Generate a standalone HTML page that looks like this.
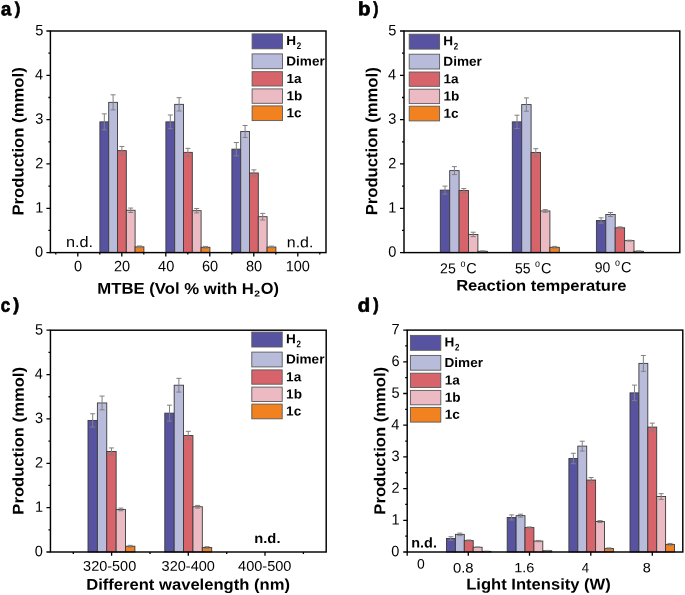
<!DOCTYPE html>
<html><head><meta charset="utf-8"><style>
html,body{margin:0;padding:0;background:#fff;}
svg{display:block;}
svg{will-change:transform}
text{font-family:"Liberation Sans", sans-serif;}
</style></head><body>
<svg width="685" height="595" viewBox="0 0 685 595">
<rect width="685" height="595" fill="#fff"/>
<rect x="99.90" y="121.86" width="8.80" height="130.74" fill="#5853a1" stroke="#3a3a3a" stroke-width="0.9"/>
<rect x="108.70" y="102.36" width="8.80" height="150.24" fill="#b9bbdb" stroke="#3a3a3a" stroke-width="0.9"/>
<rect x="117.50" y="150.66" width="8.80" height="101.94" fill="#d7646a" stroke="#3a3a3a" stroke-width="0.9"/>
<rect x="126.30" y="210.27" width="8.80" height="42.33" fill="#ebbac2" stroke="#3a3a3a" stroke-width="0.9"/>
<rect x="135.10" y="246.84" width="8.80" height="5.76" fill="#f1821f" stroke="#3a3a3a" stroke-width="0.9"/>
<rect x="165.90" y="121.86" width="8.80" height="130.74" fill="#5853a1" stroke="#3a3a3a" stroke-width="0.9"/>
<rect x="174.70" y="104.35" width="8.80" height="148.25" fill="#b9bbdb" stroke="#3a3a3a" stroke-width="0.9"/>
<rect x="183.50" y="152.35" width="8.80" height="100.25" fill="#d7646a" stroke="#3a3a3a" stroke-width="0.9"/>
<rect x="192.30" y="210.67" width="8.80" height="41.93" fill="#ebbac2" stroke="#3a3a3a" stroke-width="0.9"/>
<rect x="201.10" y="247.28" width="8.80" height="5.32" fill="#f1821f" stroke="#3a3a3a" stroke-width="0.9"/>
<rect x="231.90" y="149.16" width="8.80" height="103.44" fill="#5853a1" stroke="#3a3a3a" stroke-width="0.9"/>
<rect x="240.70" y="131.47" width="8.80" height="121.13" fill="#b9bbdb" stroke="#3a3a3a" stroke-width="0.9"/>
<rect x="249.50" y="172.96" width="8.80" height="79.64" fill="#d7646a" stroke="#3a3a3a" stroke-width="0.9"/>
<rect x="258.30" y="216.70" width="8.80" height="35.90" fill="#ebbac2" stroke="#3a3a3a" stroke-width="0.9"/>
<rect x="267.10" y="247.02" width="8.80" height="5.58" fill="#f1821f" stroke="#3a3a3a" stroke-width="0.9"/>
<path d="M104.30 113.88V129.83M101.80 113.88h5M101.80 129.83h5M113.10 94.82V109.89M110.60 94.82h5M110.60 109.89h5M121.90 146.45V154.87M119.40 146.45h5M119.40 154.87h5M130.70 208.06V212.49M128.20 208.06h5M128.20 212.49h5M139.50 245.95V247.72M137.00 245.95h5M137.00 247.72h5M170.30 114.99V128.73M167.80 114.99h5M167.80 128.73h5M179.10 97.70V111.00M176.60 97.70h5M176.60 111.00h5M187.90 148.36V156.34M185.40 148.36h5M185.40 156.34h5M196.70 208.46V212.89M194.20 208.46h5M194.20 212.89h5M205.50 246.40V248.17M203.00 246.40h5M203.00 248.17h5M236.30 142.51V155.81M233.80 142.51h5M233.80 155.81h5M245.10 125.49V137.46M242.60 125.49h5M242.60 137.46h5M253.90 169.85V176.06M251.40 169.85h5M251.40 176.06h5M262.70 213.38V220.02M260.20 213.38h5M260.20 220.02h5M271.50 246.13V247.90M269.00 246.13h5M269.00 247.90h5" stroke="#808080" stroke-width="1" fill="none"/>
<path d="M46.40 252.60H50.40M46.40 208.28H50.40M46.40 163.96H50.40M46.40 119.64H50.40M46.40 75.32H50.40M46.40 31.00H50.40M48.40 230.44H50.40M48.40 186.12H50.40M48.40 141.80H50.40M48.40 97.48H50.40M48.40 53.16H50.40M77.80 252.60V256.40M121.80 252.60V256.40M165.80 252.60V256.40M209.80 252.60V256.40M253.80 252.60V256.40M297.80 252.60V256.40M55.80 252.60V254.60M99.80 252.60V254.60M143.80 252.60V254.60M187.80 252.60V254.60M231.80 252.60V254.60M275.80 252.60V254.60M319.80 252.60V254.60" stroke="#000" stroke-width="1.3" fill="none"/>
<rect x="50.40" y="31.00" width="275.60" height="221.60" fill="none" stroke="#000" stroke-width="1.45"/>
<text transform="translate(35.03,256.80) rotate(0.05) scale(0.9700,1)" font-size="15.00" font-weight="normal" fill="#000">0</text>
<text transform="translate(35.18,212.48) rotate(0.05) scale(0.9700,1)" font-size="15.00" font-weight="normal" fill="#000">1</text>
<text transform="translate(35.18,168.16) rotate(0.05) scale(0.9700,1)" font-size="15.00" font-weight="normal" fill="#000">2</text>
<text transform="translate(35.18,123.84) rotate(0.05) scale(0.9700,1)" font-size="15.00" font-weight="normal" fill="#000">3</text>
<text transform="translate(34.89,79.52) rotate(0.05) scale(0.9700,1)" font-size="15.00" font-weight="normal" fill="#000">4</text>
<text transform="translate(35.18,35.20) rotate(0.05) scale(0.9700,1)" font-size="15.00" font-weight="normal" fill="#000">5</text>
<text transform="translate(74.03,271.25) rotate(0.05) scale(0.9700,1)" font-size="15.00" font-weight="normal" fill="#000">0</text>
<text transform="translate(113.88,271.25) rotate(0.05) scale(0.9700,1)" font-size="15.00" font-weight="normal" fill="#000">20</text>
<text transform="translate(158.10,271.25) rotate(0.05) scale(0.9700,1)" font-size="15.00" font-weight="normal" fill="#000">40</text>
<text transform="translate(201.88,271.25) rotate(0.05) scale(0.9700,1)" font-size="15.00" font-weight="normal" fill="#000">60</text>
<text transform="translate(245.95,271.25) rotate(0.05) scale(0.9700,1)" font-size="15.00" font-weight="normal" fill="#000">80</text>
<text transform="translate(285.66,271.25) rotate(0.05) scale(0.9700,1)" font-size="15.00" font-weight="normal" fill="#000">100</text>
<rect x="252.10" y="33.90" width="30.4" height="14.90" fill="#5853a1" stroke="#5a5a5a" stroke-width="0.9"/>
<rect x="252.10" y="53.90" width="30.4" height="14.80" fill="#b9bbdb" stroke="#5a5a5a" stroke-width="0.9"/>
<rect x="252.10" y="71.70" width="30.4" height="14.30" fill="#d7646a" stroke="#5a5a5a" stroke-width="0.9"/>
<rect x="252.10" y="88.90" width="30.4" height="14.40" fill="#ebbac2" stroke="#5a5a5a" stroke-width="0.9"/>
<rect x="252.10" y="105.90" width="30.4" height="14.70" fill="#f1821f" stroke="#5a5a5a" stroke-width="0.9"/>
<text transform="translate(286.25,44.99) rotate(0.05) scale(1.0300,1)" font-size="13.20" font-weight="bold" fill="#000">H</text>
<text transform="translate(296.76,49.10) rotate(0.05) scale(0.8193,1)" font-size="9.71" font-weight="bold" fill="#000">2</text>
<text transform="translate(286.25,65.39) rotate(0.05) scale(1.0300,1)" font-size="13.20" font-weight="bold" fill="#000">Dimer</text>
<text transform="translate(286.38,82.94) rotate(0.05) scale(1.0300,1)" font-size="13.20" font-weight="bold" fill="#000">1a</text>
<text transform="translate(286.38,100.19) rotate(0.05) scale(1.0300,1)" font-size="13.20" font-weight="bold" fill="#000">1b</text>
<text transform="translate(286.38,117.34) rotate(0.05) scale(1.0300,1)" font-size="13.20" font-weight="bold" fill="#000">1c</text>
<text transform="translate(65.96,247.05) rotate(0.05) scale(1.0812,1)" font-size="15.07" font-weight="normal" fill="#000">n.d.</text>
<text transform="translate(286.78,247.25) rotate(0.05) scale(1.0689,1)" font-size="14.93" font-weight="normal" fill="#000">n.d.</text>
<text transform="translate(97.33,293.80) rotate(0.05) scale(1.0582,1)" font-size="15.80" font-weight="bold" fill="#000">MTBE (Vol % with H</text>
<text transform="translate(254.19,296.50) rotate(0.05) scale(1.1944,1)" font-size="8.71" font-weight="bold" fill="#000">2</text>
<text transform="translate(260.85,293.80) rotate(0.05) scale(1.0364,1)" font-size="15.80" font-weight="bold" fill="#000">O)</text>
<rect x="440.30" y="190.11" width="9.40" height="62.49" fill="#5853a1" stroke="#3a3a3a" stroke-width="0.9"/>
<rect x="449.70" y="170.61" width="9.40" height="81.99" fill="#b9bbdb" stroke="#3a3a3a" stroke-width="0.9"/>
<rect x="459.10" y="190.55" width="9.40" height="62.05" fill="#d7646a" stroke="#3a3a3a" stroke-width="0.9"/>
<rect x="468.50" y="234.43" width="9.40" height="18.17" fill="#ebbac2" stroke="#3a3a3a" stroke-width="0.9"/>
<rect x="477.90" y="251.27" width="9.40" height="1.33" fill="#f1821f" stroke="#3a3a3a" stroke-width="0.9"/>
<rect x="512.30" y="121.86" width="9.40" height="130.74" fill="#5853a1" stroke="#3a3a3a" stroke-width="0.9"/>
<rect x="521.70" y="104.57" width="9.40" height="148.03" fill="#b9bbdb" stroke="#3a3a3a" stroke-width="0.9"/>
<rect x="531.10" y="152.44" width="9.40" height="100.16" fill="#d7646a" stroke="#3a3a3a" stroke-width="0.9"/>
<rect x="540.50" y="210.94" width="9.40" height="41.66" fill="#ebbac2" stroke="#3a3a3a" stroke-width="0.9"/>
<rect x="549.90" y="247.28" width="9.40" height="5.32" fill="#f1821f" stroke="#3a3a3a" stroke-width="0.9"/>
<rect x="596.40" y="220.47" width="9.40" height="32.13" fill="#5853a1" stroke="#3a3a3a" stroke-width="0.9"/>
<rect x="605.80" y="214.48" width="9.40" height="38.12" fill="#b9bbdb" stroke="#3a3a3a" stroke-width="0.9"/>
<rect x="615.20" y="227.78" width="9.40" height="24.82" fill="#d7646a" stroke="#3a3a3a" stroke-width="0.9"/>
<rect x="624.60" y="240.63" width="9.40" height="11.97" fill="#ebbac2" stroke="#3a3a3a" stroke-width="0.9"/>
<rect x="634.00" y="251.27" width="9.40" height="1.33" fill="#f1821f" stroke="#3a3a3a" stroke-width="0.9"/>
<path d="M445.00 186.12V194.10M442.50 186.12h5M442.50 194.10h5M454.40 166.62V174.60M451.90 166.62h5M451.90 174.60h5M463.80 188.56V192.55M461.30 188.56h5M461.30 192.55h5M473.20 232.21V236.64M470.70 232.21h5M470.70 236.64h5M482.60 250.83V251.71M480.10 250.83h5M480.10 251.71h5M517.00 115.21V128.50M514.50 115.21h5M514.50 128.50h5M526.40 97.92V111.22M523.90 97.92h5M523.90 111.22h5M535.80 148.67V156.20M533.30 148.67h5M533.30 156.20h5M545.20 209.61V212.27M542.70 209.61h5M542.70 212.27h5M554.60 246.40V248.17M552.10 246.40h5M552.10 248.17h5M601.10 217.81V223.13M598.60 217.81h5M598.60 223.13h5M610.50 212.49V216.48M608.00 212.49h5M608.00 216.48h5M619.90 226.89V228.67M617.40 226.89h5M617.40 228.67h5M629.30 240.19V241.08M626.80 240.19h5M626.80 241.08h5M638.70 250.83V251.71M636.20 250.83h5M636.20 251.71h5" stroke="#808080" stroke-width="1" fill="none"/>
<path d="M400.00 252.60H404.00M400.00 208.28H404.00M400.00 163.96H404.00M400.00 119.64H404.00M400.00 75.32H404.00M400.00 31.00H404.00M402.00 230.44H404.00M402.00 186.12H404.00M402.00 141.80H404.00M402.00 97.48H404.00M402.00 53.16H404.00" stroke="#000" stroke-width="1.3" fill="none"/>
<rect x="404.00" y="31.00" width="275.80" height="221.60" fill="none" stroke="#000" stroke-width="1.45"/>
<text transform="translate(388.13,256.80) rotate(0.05) scale(0.9700,1)" font-size="15.00" font-weight="normal" fill="#000">0</text>
<text transform="translate(388.28,212.48) rotate(0.05) scale(0.9700,1)" font-size="15.00" font-weight="normal" fill="#000">1</text>
<text transform="translate(388.28,168.16) rotate(0.05) scale(0.9700,1)" font-size="15.00" font-weight="normal" fill="#000">2</text>
<text transform="translate(388.28,123.84) rotate(0.05) scale(0.9700,1)" font-size="15.00" font-weight="normal" fill="#000">3</text>
<text transform="translate(387.99,79.52) rotate(0.05) scale(0.9700,1)" font-size="15.00" font-weight="normal" fill="#000">4</text>
<text transform="translate(388.28,35.20) rotate(0.05) scale(0.9700,1)" font-size="15.00" font-weight="normal" fill="#000">5</text>
<rect x="409.20" y="34.20" width="30.4" height="14.90" fill="#5853a1" stroke="#5a5a5a" stroke-width="0.9"/>
<rect x="409.20" y="54.20" width="30.4" height="14.80" fill="#b9bbdb" stroke="#5a5a5a" stroke-width="0.9"/>
<rect x="409.20" y="72.00" width="30.4" height="14.30" fill="#d7646a" stroke="#5a5a5a" stroke-width="0.9"/>
<rect x="409.20" y="89.20" width="30.4" height="14.40" fill="#ebbac2" stroke="#5a5a5a" stroke-width="0.9"/>
<rect x="409.20" y="106.20" width="30.4" height="14.70" fill="#f1821f" stroke="#5a5a5a" stroke-width="0.9"/>
<text transform="translate(443.35,45.29) rotate(0.05) scale(1.0300,1)" font-size="13.20" font-weight="bold" fill="#000">H</text>
<text transform="translate(453.86,49.40) rotate(0.05) scale(0.8193,1)" font-size="9.71" font-weight="bold" fill="#000">2</text>
<text transform="translate(443.35,65.69) rotate(0.05) scale(1.0300,1)" font-size="13.20" font-weight="bold" fill="#000">Dimer</text>
<text transform="translate(443.48,83.24) rotate(0.05) scale(1.0300,1)" font-size="13.20" font-weight="bold" fill="#000">1a</text>
<text transform="translate(443.48,100.49) rotate(0.05) scale(1.0300,1)" font-size="13.20" font-weight="bold" fill="#000">1b</text>
<text transform="translate(443.48,117.64) rotate(0.05) scale(1.0300,1)" font-size="13.20" font-weight="bold" fill="#000">1c</text>
<text transform="translate(440.09,273.16) rotate(0.05) scale(0.9827,1)" font-size="14.37" font-weight="normal" fill="#000">25</text>
<text transform="translate(460.39,266.65) rotate(0.05) scale(0.8936,1)" font-size="10.00" font-weight="normal" fill="#000">o</text>
<text transform="translate(466.28,273.15) rotate(0.05) scale(0.9767,1)" font-size="14.79" font-weight="normal" fill="#000">C</text>
<text transform="translate(514.94,273.15) rotate(0.05) scale(0.9595,1)" font-size="14.57" font-weight="normal" fill="#000">55</text>
<text transform="translate(535.09,266.65) rotate(0.05) scale(0.8936,1)" font-size="10.00" font-weight="normal" fill="#000">o</text>
<text transform="translate(540.98,273.15) rotate(0.05) scale(0.9767,1)" font-size="14.79" font-weight="normal" fill="#000">C</text>
<text transform="translate(594.80,272.26) rotate(0.05) scale(0.9732,1)" font-size="14.37" font-weight="normal" fill="#000">90</text>
<text transform="translate(615.09,265.75) rotate(0.05) scale(0.8936,1)" font-size="10.00" font-weight="normal" fill="#000">o</text>
<text transform="translate(620.98,272.25) rotate(0.05) scale(0.9767,1)" font-size="14.79" font-weight="normal" fill="#000">C</text>
<text transform="translate(456.14,290.60) rotate(0.05) scale(1.0901,1)" font-size="15.22" font-weight="bold" fill="#000">Reaction temperature</text>
<rect x="88.00" y="420.43" width="9.38" height="131.57" fill="#5853a1" stroke="#3a3a3a" stroke-width="0.9"/>
<rect x="97.38" y="402.95" width="9.38" height="149.05" fill="#b9bbdb" stroke="#3a3a3a" stroke-width="0.9"/>
<rect x="106.76" y="451.48" width="9.38" height="100.52" fill="#d7646a" stroke="#3a3a3a" stroke-width="0.9"/>
<rect x="116.14" y="509.41" width="9.38" height="42.59" fill="#ebbac2" stroke="#3a3a3a" stroke-width="0.9"/>
<rect x="125.52" y="546.23" width="9.38" height="5.77" fill="#f1821f" stroke="#3a3a3a" stroke-width="0.9"/>
<rect x="164.80" y="413.15" width="9.38" height="138.85" fill="#5853a1" stroke="#3a3a3a" stroke-width="0.9"/>
<rect x="174.18" y="385.21" width="9.38" height="166.79" fill="#b9bbdb" stroke="#3a3a3a" stroke-width="0.9"/>
<rect x="183.56" y="435.56" width="9.38" height="116.44" fill="#d7646a" stroke="#3a3a3a" stroke-width="0.9"/>
<rect x="192.94" y="506.75" width="9.38" height="45.25" fill="#ebbac2" stroke="#3a3a3a" stroke-width="0.9"/>
<rect x="202.32" y="547.56" width="9.38" height="4.44" fill="#f1821f" stroke="#3a3a3a" stroke-width="0.9"/>
<path d="M92.69 413.77V427.08M90.19 413.77h5M90.19 427.08h5M102.07 396.07V409.83M99.57 396.07h5M99.57 409.83h5M111.45 447.93V455.03M108.95 447.93h5M108.95 455.03h5M120.83 508.08V510.75M118.33 508.08h5M118.33 510.75h5M130.21 545.35V547.12M127.71 545.35h5M127.71 547.12h5M169.49 405.17V421.14M166.99 405.17h5M166.99 421.14h5M178.87 378.33V392.08M176.37 378.33h5M176.37 392.08h5M188.25 431.34V439.77M185.75 431.34h5M185.75 439.77h5M197.63 505.42V508.08M195.13 505.42h5M195.13 508.08h5M207.01 546.68V548.45M204.51 546.68h5M204.51 548.45h5" stroke="#808080" stroke-width="1" fill="none"/>
<path d="M46.45 552.00H50.45M46.45 507.64H50.45M46.45 463.28H50.45M46.45 418.92H50.45M46.45 374.56H50.45M46.45 330.20H50.45M48.45 529.82H50.45M48.45 485.46H50.45M48.45 441.10H50.45M48.45 396.74H50.45M48.45 352.38H50.45M111.60 552.00V555.80M188.30 552.00V555.80M265.00 552.00V555.80M73.30 552.00V554.00M150.00 552.00V554.00M226.70 552.00V554.00M303.40 552.00V554.00" stroke="#000" stroke-width="1.3" fill="none"/>
<rect x="50.45" y="330.20" width="275.75" height="221.80" fill="none" stroke="#000" stroke-width="1.45"/>
<text transform="translate(34.78,556.20) rotate(0.05) scale(0.9700,1)" font-size="15.00" font-weight="normal" fill="#000">0</text>
<text transform="translate(34.93,511.84) rotate(0.05) scale(0.9700,1)" font-size="15.00" font-weight="normal" fill="#000">1</text>
<text transform="translate(34.93,467.48) rotate(0.05) scale(0.9700,1)" font-size="15.00" font-weight="normal" fill="#000">2</text>
<text transform="translate(34.93,423.12) rotate(0.05) scale(0.9700,1)" font-size="15.00" font-weight="normal" fill="#000">3</text>
<text transform="translate(34.64,378.76) rotate(0.05) scale(0.9700,1)" font-size="15.00" font-weight="normal" fill="#000">4</text>
<text transform="translate(34.93,334.40) rotate(0.05) scale(0.9700,1)" font-size="15.00" font-weight="normal" fill="#000">5</text>
<rect x="251.80" y="332.10" width="30.4" height="14.90" fill="#5853a1" stroke="#5a5a5a" stroke-width="0.9"/>
<rect x="251.80" y="352.10" width="30.4" height="14.80" fill="#b9bbdb" stroke="#5a5a5a" stroke-width="0.9"/>
<rect x="251.80" y="369.90" width="30.4" height="14.30" fill="#d7646a" stroke="#5a5a5a" stroke-width="0.9"/>
<rect x="251.80" y="387.10" width="30.4" height="14.40" fill="#ebbac2" stroke="#5a5a5a" stroke-width="0.9"/>
<rect x="251.80" y="404.10" width="30.4" height="14.70" fill="#f1821f" stroke="#5a5a5a" stroke-width="0.9"/>
<text transform="translate(285.95,343.19) rotate(0.05) scale(1.0300,1)" font-size="13.20" font-weight="bold" fill="#000">H</text>
<text transform="translate(296.46,347.30) rotate(0.05) scale(0.8193,1)" font-size="9.71" font-weight="bold" fill="#000">2</text>
<text transform="translate(285.95,363.59) rotate(0.05) scale(1.0300,1)" font-size="13.20" font-weight="bold" fill="#000">Dimer</text>
<text transform="translate(286.08,381.14) rotate(0.05) scale(1.0300,1)" font-size="13.20" font-weight="bold" fill="#000">1a</text>
<text transform="translate(286.08,398.39) rotate(0.05) scale(1.0300,1)" font-size="13.20" font-weight="bold" fill="#000">1b</text>
<text transform="translate(286.08,415.54) rotate(0.05) scale(1.0300,1)" font-size="13.20" font-weight="bold" fill="#000">1c</text>
<text transform="translate(83.12,570.66) rotate(0.05) scale(1.0284,1)" font-size="14.08" font-weight="normal" fill="#000">320-500</text>
<text transform="translate(161.62,570.66) rotate(0.05) scale(1.0324,1)" font-size="14.08" font-weight="normal" fill="#000">320-400</text>
<text transform="translate(238.11,570.66) rotate(0.05) scale(1.0325,1)" font-size="14.08" font-weight="normal" fill="#000">400-500</text>
<text transform="translate(86.14,589.70) rotate(0.05) scale(1.0618,1)" font-size="15.65" font-weight="bold" fill="#000">Different wavelength (nm)</text>
<text transform="translate(254.27,543.06) rotate(0.05) scale(1.0561,1)" font-size="13.97" font-weight="bold" fill="#000">n.d.</text>
<rect x="446.50" y="538.46" width="8.90" height="13.54" fill="#5853a1" stroke="#3a3a3a" stroke-width="0.9"/>
<rect x="455.40" y="534.37" width="8.90" height="17.63" fill="#b9bbdb" stroke="#3a3a3a" stroke-width="0.9"/>
<rect x="464.30" y="540.59" width="8.90" height="11.41" fill="#d7646a" stroke="#3a3a3a" stroke-width="0.9"/>
<rect x="473.20" y="547.25" width="8.90" height="4.75" fill="#ebbac2" stroke="#3a3a3a" stroke-width="0.9"/>
<rect x="482.10" y="551.37" width="8.90" height="0.63" fill="#f1821f" stroke="#3a3a3a" stroke-width="0.9"/>
<rect x="507.20" y="517.45" width="8.90" height="34.55" fill="#5853a1" stroke="#3a3a3a" stroke-width="0.9"/>
<rect x="516.10" y="515.64" width="8.90" height="36.36" fill="#b9bbdb" stroke="#3a3a3a" stroke-width="0.9"/>
<rect x="525.00" y="527.59" width="8.90" height="24.41" fill="#d7646a" stroke="#3a3a3a" stroke-width="0.9"/>
<rect x="533.90" y="541.06" width="8.90" height="10.94" fill="#ebbac2" stroke="#3a3a3a" stroke-width="0.9"/>
<rect x="542.80" y="550.73" width="8.90" height="1.27" fill="#f1821f" stroke="#3a3a3a" stroke-width="0.9"/>
<rect x="568.90" y="458.49" width="8.90" height="93.51" fill="#5853a1" stroke="#3a3a3a" stroke-width="0.9"/>
<rect x="577.80" y="446.12" width="8.90" height="105.88" fill="#b9bbdb" stroke="#3a3a3a" stroke-width="0.9"/>
<rect x="586.70" y="480.04" width="8.90" height="71.96" fill="#d7646a" stroke="#3a3a3a" stroke-width="0.9"/>
<rect x="595.60" y="521.57" width="8.90" height="30.43" fill="#ebbac2" stroke="#3a3a3a" stroke-width="0.9"/>
<rect x="604.50" y="548.51" width="8.90" height="3.49" fill="#f1821f" stroke="#3a3a3a" stroke-width="0.9"/>
<rect x="630.00" y="392.87" width="8.90" height="159.13" fill="#5853a1" stroke="#3a3a3a" stroke-width="0.9"/>
<rect x="638.90" y="363.38" width="8.90" height="188.61" fill="#b9bbdb" stroke="#3a3a3a" stroke-width="0.9"/>
<rect x="647.80" y="427.10" width="8.90" height="124.90" fill="#d7646a" stroke="#3a3a3a" stroke-width="0.9"/>
<rect x="656.70" y="496.52" width="8.90" height="55.47" fill="#ebbac2" stroke="#3a3a3a" stroke-width="0.9"/>
<rect x="665.60" y="544.39" width="8.90" height="7.61" fill="#f1821f" stroke="#3a3a3a" stroke-width="0.9"/>
<path d="M450.95 536.72V540.21M448.45 536.72h5M448.45 540.21h5M459.85 533.11V535.64M457.35 533.11h5M457.35 535.64h5M468.75 539.95V541.22M466.25 539.95h5M466.25 541.22h5M477.65 546.93V547.56M475.15 546.93h5M475.15 547.56h5M486.55 551.21V551.52M484.05 551.21h5M484.05 551.52h5M511.65 514.91V519.98M509.15 514.91h5M509.15 519.98h5M520.55 514.21V517.07M518.05 514.21h5M518.05 517.07h5M529.45 526.96V528.23M526.95 526.96h5M526.95 528.23h5M538.35 540.43V541.70M535.85 540.43h5M535.85 541.70h5M547.25 550.41V551.05M544.75 550.41h5M544.75 551.05h5M573.35 453.25V463.72M570.85 453.25h5M570.85 463.72h5M582.25 441.21V451.04M579.75 441.21h5M579.75 451.04h5M591.15 477.50V482.58M588.65 477.50h5M588.65 482.58h5M600.05 520.62V522.52M597.55 520.62h5M597.55 522.52h5M608.95 547.88V549.15M606.45 547.88h5M606.45 549.15h5M634.45 385.10V400.63M631.95 385.10h5M631.95 400.63h5M643.35 355.46V371.31M640.85 355.46h5M640.85 371.31h5M652.25 423.14V431.06M649.75 423.14h5M649.75 431.06h5M661.15 493.67V499.38M658.65 493.67h5M658.65 499.38h5M670.05 543.44V545.34M667.55 543.44h5M667.55 545.34h5" stroke="#808080" stroke-width="1" fill="none"/>
<path d="M403.20 552.00H407.20M403.20 520.30H407.20M403.20 488.60H407.20M403.20 456.90H407.20M403.20 425.20H407.20M403.20 393.50H407.20M403.20 361.80H407.20M403.20 330.10H407.20M405.20 536.15H407.20M405.20 504.45H407.20M405.20 472.75H407.20M405.20 441.05H407.20M405.20 409.35H407.20M405.20 377.65H407.20M405.20 345.95H407.20M407.20 552.00V555.80M468.30 552.00V555.80M529.50 552.00V555.80M590.80 552.00V555.80M652.30 552.00V555.80" stroke="#000" stroke-width="1.3" fill="none"/>
<rect x="407.20" y="330.10" width="275.60" height="221.90" fill="none" stroke="#000" stroke-width="1.45"/>
<text transform="translate(391.33,556.20) rotate(0.05) scale(0.9700,1)" font-size="15.00" font-weight="normal" fill="#000">0</text>
<text transform="translate(391.48,524.50) rotate(0.05) scale(0.9700,1)" font-size="15.00" font-weight="normal" fill="#000">1</text>
<text transform="translate(391.48,492.80) rotate(0.05) scale(0.9700,1)" font-size="15.00" font-weight="normal" fill="#000">2</text>
<text transform="translate(391.48,461.10) rotate(0.05) scale(0.9700,1)" font-size="15.00" font-weight="normal" fill="#000">3</text>
<text transform="translate(391.19,429.40) rotate(0.05) scale(0.9700,1)" font-size="15.00" font-weight="normal" fill="#000">4</text>
<text transform="translate(391.48,397.70) rotate(0.05) scale(0.9700,1)" font-size="15.00" font-weight="normal" fill="#000">5</text>
<text transform="translate(391.48,366.00) rotate(0.05) scale(0.9700,1)" font-size="15.00" font-weight="normal" fill="#000">6</text>
<text transform="translate(391.48,334.30) rotate(0.05) scale(0.9700,1)" font-size="15.00" font-weight="normal" fill="#000">7</text>
<rect x="410.40" y="335.40" width="30.4" height="14.90" fill="#5853a1" stroke="#5a5a5a" stroke-width="0.9"/>
<rect x="410.40" y="355.40" width="30.4" height="14.80" fill="#b9bbdb" stroke="#5a5a5a" stroke-width="0.9"/>
<rect x="410.40" y="373.20" width="30.4" height="14.30" fill="#d7646a" stroke="#5a5a5a" stroke-width="0.9"/>
<rect x="410.40" y="390.40" width="30.4" height="14.40" fill="#ebbac2" stroke="#5a5a5a" stroke-width="0.9"/>
<rect x="410.40" y="407.40" width="30.4" height="14.70" fill="#f1821f" stroke="#5a5a5a" stroke-width="0.9"/>
<text transform="translate(444.55,346.49) rotate(0.05) scale(1.0300,1)" font-size="13.20" font-weight="bold" fill="#000">H</text>
<text transform="translate(455.06,350.60) rotate(0.05) scale(0.8193,1)" font-size="9.71" font-weight="bold" fill="#000">2</text>
<text transform="translate(444.55,366.89) rotate(0.05) scale(1.0300,1)" font-size="13.20" font-weight="bold" fill="#000">Dimer</text>
<text transform="translate(444.68,384.44) rotate(0.05) scale(1.0300,1)" font-size="13.20" font-weight="bold" fill="#000">1a</text>
<text transform="translate(444.68,401.69) rotate(0.05) scale(1.0300,1)" font-size="13.20" font-weight="bold" fill="#000">1b</text>
<text transform="translate(444.68,418.84) rotate(0.05) scale(1.0300,1)" font-size="13.20" font-weight="bold" fill="#000">1c</text>
<text transform="translate(416.94,568.46) rotate(0.05) scale(1.0323,1)" font-size="13.52" font-weight="normal" fill="#000">0</text>
<text transform="translate(452.91,572.46) rotate(0.05) scale(1.0867,1)" font-size="13.66" font-weight="normal" fill="#000">0.8</text>
<text transform="translate(514.24,572.27) rotate(0.05) scale(1.0855,1)" font-size="13.38" font-weight="normal" fill="#000">1.6</text>
<text transform="translate(581.74,572.40) rotate(0.05) scale(0.9542,1)" font-size="13.77" font-weight="normal" fill="#000">4</text>
<text transform="translate(642.82,572.27) rotate(0.05) scale(1.0813,1)" font-size="13.38" font-weight="normal" fill="#000">8</text>
<text transform="translate(466.24,589.40) rotate(0.05) scale(1.0601,1)" font-size="15.65" font-weight="bold" fill="#000">Light Intensity (W)</text>
<text transform="translate(411.29,547.56) rotate(0.05) scale(1.0242,1)" font-size="14.11" font-weight="bold" fill="#000">n.d.</text>
<text transform="translate(0.90,15.16) rotate(0.05) scale(0.9779,1)" font-size="18.91" font-weight="bold" fill="#000" stroke="#000" stroke-width="0.70" stroke-linejoin="round">a</text>
<text transform="translate(14.85,14.19) rotate(0.05) scale(0.9636,1)" font-size="17.42" font-weight="bold" fill="#000" stroke="#000" stroke-width="0.70" stroke-linejoin="round">)</text>
<text transform="translate(357.92,15.36) rotate(0.05) scale(1.0562,1)" font-size="19.32" font-weight="bold" fill="#000" stroke="#000" stroke-width="0.70" stroke-linejoin="round">b</text>
<text transform="translate(373.15,14.22) rotate(0.05) scale(0.8656,1)" font-size="17.74" font-weight="bold" fill="#000" stroke="#000" stroke-width="0.70" stroke-linejoin="round">)</text>
<text transform="translate(0.67,311.75) rotate(0.05) scale(0.8626,1)" font-size="19.64" font-weight="bold" fill="#000" stroke="#000" stroke-width="0.70" stroke-linejoin="round">c</text>
<text transform="translate(13.15,310.58) rotate(0.05) scale(0.9944,1)" font-size="17.96" font-weight="bold" fill="#000" stroke="#000" stroke-width="0.70" stroke-linejoin="round">)</text>
<text transform="translate(357.84,311.76) rotate(0.05) scale(1.0458,1)" font-size="19.32" font-weight="bold" fill="#000" stroke="#000" stroke-width="0.70" stroke-linejoin="round">d</text>
<text transform="translate(373.15,310.58) rotate(0.05) scale(0.9149,1)" font-size="17.96" font-weight="bold" fill="#000" stroke="#000" stroke-width="0.70" stroke-linejoin="round">)</text>
<text transform="translate(23.46,215.57) rotate(-89.95) scale(1.0494,1)" font-size="15.91" font-weight="bold" fill="#000">Production (mmol)</text>
<text transform="translate(377.27,215.37) rotate(-89.95) scale(1.0197,1)" font-size="16.34" font-weight="bold" fill="#000">Production (mmol)</text>
<text transform="translate(23.55,514.66) rotate(-89.95) scale(1.0742,1)" font-size="15.48" font-weight="bold" fill="#000">Production (mmol)</text>
<text transform="translate(385.18,514.67) rotate(-89.95) scale(1.0530,1)" font-size="15.81" font-weight="bold" fill="#000">Production (mmol)</text>
</svg>
</body></html>
